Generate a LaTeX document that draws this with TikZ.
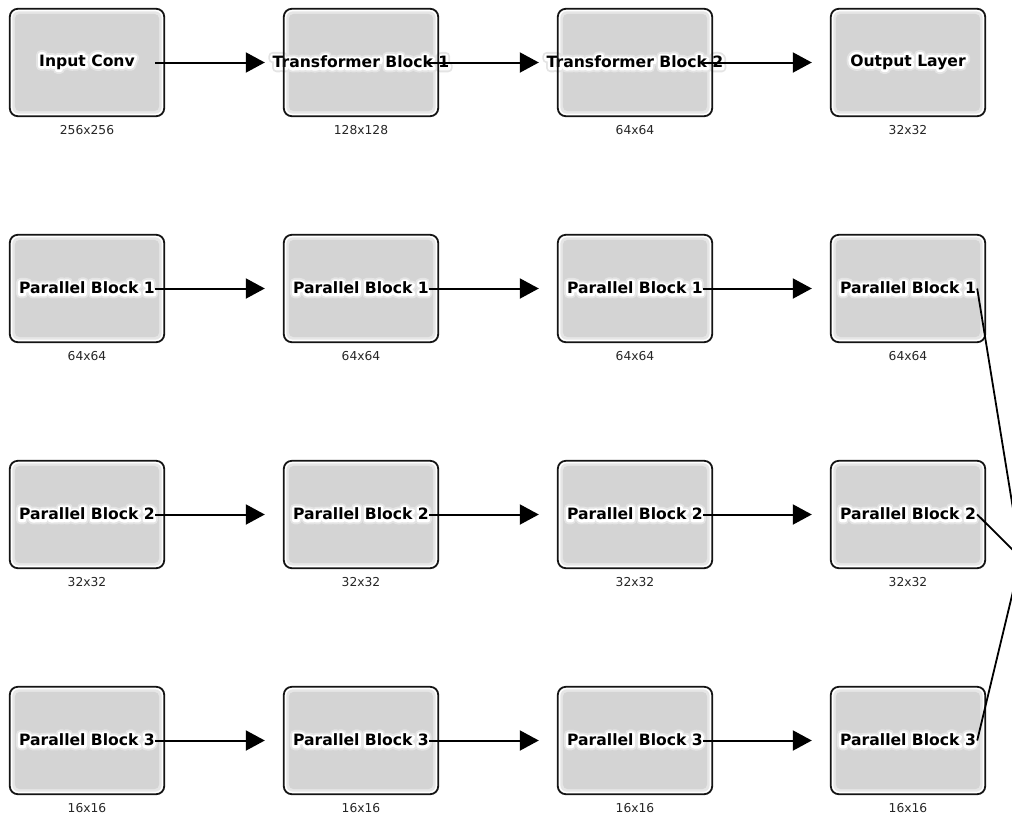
\documentclass[tikz,border=0pt]{standalone}
\usepackage{fontspec}
\setmainfont{DejaVu Sans}
\usetikzlibrary{arrows.meta}
\definecolor{boxgray}{HTML}{D4D4D4}
\definecolor{edgeA}{HTML}{E6E6E6}
\definecolor{glowA}{HTML}{E4E4E4}
\definecolor{glowB}{HTML}{F4F4F4}
\newcommand\halo[1]{%
\rlap{\addfontfeatures{FakeBold=58}\color{glowA}#1}%
\rlap{\addfontfeatures{FakeBold=34}\color{white}#1}%
#1}
\begin{document}
\begin{tikzpicture}[x=1pt,y=-1pt,
  boxbase/.style={minimum width=154pt, minimum height=107pt, inner sep=0pt, fill=white, rounded corners=8pt},
  boxedge/.style={draw=black!92, line width=1.8pt, rounded corners=8pt},
  title/.style={font=\bfseries\fontsize{15.6}{18}\selectfont, inner sep=0pt, line join=round},
  sizelab/.style={font=\fontsize{12.3}{14}\selectfont, text=black!85, inner sep=0pt},
  conn/.style={line width=2pt, -{Triangle[length=19pt,width=20pt]}},
  joinline/.style={line width=1.8pt}]
\useasboundingbox (0,0) rectangle (1012,814);
\clip (0,0) rectangle (1012,814);
% boxes (fill + inner glow)
\foreach \r/\y in {1/62.5,2/288.5,3/514.5,4/740.5}{
  \foreach \c/\x in {1/87,2/361,3/635,4/908}{
    \node[boxbase] (b-\r-\c) at (\x,\y) {};
    \fill[edgeA, rounded corners=6.5pt] ([xshift=2.5pt,yshift=-2.5pt]b-\r-\c.north west) rectangle ([xshift=-2.5pt,yshift=2.5pt]b-\r-\c.south east);
    \fill[boxgray, rounded corners=5pt] ([xshift=5pt,yshift=-5pt]b-\r-\c.north west) rectangle ([xshift=-5pt,yshift=5pt]b-\r-\c.south east);
  }
}
% titles
\foreach \c/\x/\t/\s in {1/87/Input Conv/256x256, 2/361/Transformer Block 1/128x128, 3/635/Transformer Block 2/64x64, 4/908/Output Layer/32x32}{
  \node[title] (t-1-\c) at (\x,62) {\halo{\t}};
  \node[sizelab] (s-1-\c) at (\x,130) {\s};
}
\foreach \r/\y/\t/\s in {2/288/Parallel Block 1/64x64, 3/514/Parallel Block 2/32x32, 4/740/Parallel Block 3/16x16}{
  \foreach \c/\x in {1/87,2/361,3/635,4/908}{
    \node[title] (t-\r-\c) at (\x,\y) {\halo{\t}};
    \node[sizelab] (s-\r-\c) at (\x,\y+68) {\s};
  }
}
% borders
\foreach \r in {1,2,3,4}{
  \foreach \c in {1,2,3,4}{
    \draw[boxedge] (b-\r-\c.north west) rectangle (b-\r-\c.south east);
  }
}
% arrows
\foreach \r in {1,2,3,4}{
  \foreach \c/\n in {1/2,2/3,3/4}{
    \draw[conn] ([xshift=-9pt]b-\r-\c.east) -- ([xshift=-19pt]b-\r-\n.west);
  }
}
\coordinate (merge) at (1021,558);
\foreach \r in {2,3,4}{
  \draw[joinline] ([xshift=-8pt]b-\r-4.east) -- (merge);
}
\end{tikzpicture}
\end{document}
